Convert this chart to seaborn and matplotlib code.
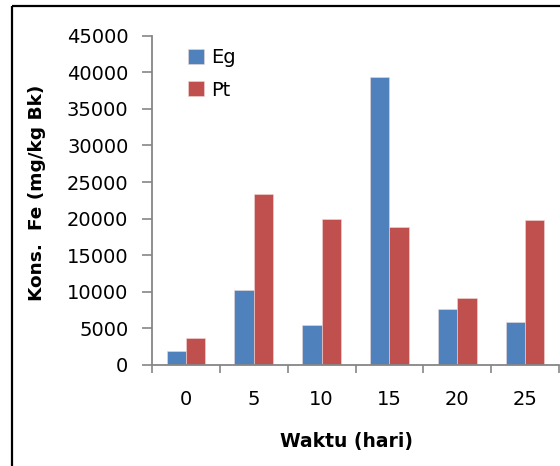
import pandas as pd
import matplotlib.pyplot as plt
import matplotlib.lines as mlines
import seaborn as sns

# Data
days = ["0", "5", "10", "15", "20", "25"]
eg = [1900, 10200, 5400, 39300, 7650, 5900]
pt = [3650, 23300, 20000, 18800, 9150, 19850]

df = pd.DataFrame({"Waktu": days * 2,
                   "Fe": eg + pt,
                   "Seri": ["Eg"] * len(days) + ["Pt"] * len(days)})

sns.set_style("white")
plt.rcParams["font.family"] = ["DejaVu Sans"]
plt.rcParams["text.color"] = "black"
plt.rcParams["xtick.color"] = "black"
plt.rcParams["ytick.color"] = "black"

fig = plt.figure(figsize=(5.6, 4.66), dpi=100)
ax = fig.add_axes([152 / 560, 1 - 365 / 466, 407 / 560, (365 - 35.7) / 466])

sns.barplot(data=df, x="Waktu", y="Fe", hue="Seri", order=days,
            palette={"Eg": "#4F81BD", "Pt": "#C0504D"}, saturation=1,
            width=0.57, edgecolor="#f0d8d8", linewidth=0.4, ax=ax)

axis_col = "#868686"
ax.set_ylim(0, 45000)
ax.set_xlim(-0.5, 5.5)
ax.set_yticks(range(0, 45001, 5000))
ax.set_yticklabels([str(v) for v in range(0, 45001, 5000)], fontsize=14)
ax.set_xticks(range(len(days)))
ax.set_xticklabels(days, fontsize=14)
ax.set_xticks([i - 0.5 for i in range(len(days) + 1)], minor=True)
ax.tick_params(axis="x", which="major", bottom=False, length=0, pad=18)
ax.tick_params(axis="x", which="minor", bottom=True, length=6, width=1.2,
               color=axis_col, direction="out")
ax.tick_params(axis="y", which="major", left=True, length=7, width=1.2,
               color=axis_col, direction="out", pad=10)

for s in ["top", "right"]:
    ax.spines[s].set_visible(False)
for s in ["left", "bottom"]:
    ax.spines[s].set_color(axis_col)
    ax.spines[s].set_linewidth(1.3)

ax.set_xlabel("")
ax.set_ylabel("")
fig.text(346 / 560, 1 - 442 / 466, "Waktu (hari)", ha="center", va="center",
         fontsize=13.5, fontweight="bold")
fig.text(37 / 560, 1 - 193 / 466, "Kons.  Fe (mg/kg Bk)", ha="center", va="center",
         rotation=90, fontsize=13.3, fontweight="bold")

handles, labels = ax.get_legend_handles_labels()
ax.legend(handles, labels, loc="upper left",
          bbox_to_anchor=(188 / 560, 1 - 48 / 466), bbox_transform=fig.transFigure,
          frameon=False, fontsize=14, handlelength=0.8, handleheight=0.8,
          handletextpad=0.4, labelspacing=0.7, borderpad=0, borderaxespad=0)

# outer frame of the original figure: only left and top edges are visible
x0, y0 = 12 / 560, 1 - 6 / 466
fig.add_artist(mlines.Line2D([x0, x0], [0.001, y0], transform=fig.transFigure,
                             color="black", linewidth=1.6, solid_capstyle="butt"))
fig.add_artist(mlines.Line2D([x0, 1.0], [y0, y0], transform=fig.transFigure,
                             color="black", linewidth=1.6, solid_capstyle="butt"))

fig.savefig("out.png", dpi=100)
